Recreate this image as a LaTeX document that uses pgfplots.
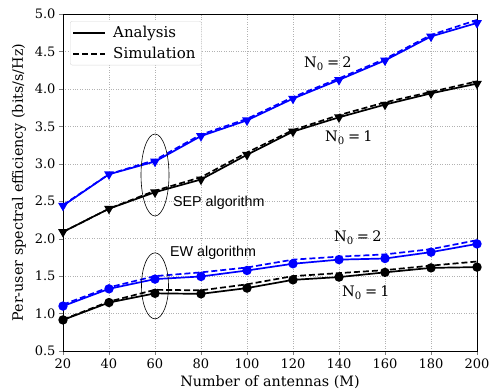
\documentclass[border=0pt]{standalone}
\usepackage{fontspec}
\setmainfont{DejaVu Serif}
\newfontfamily\sansf{Liberation Sans}
\usepackage{pgfplots}
\pgfplotsset{compat=1.18}
\usetikzlibrary{calc}
\newcommand{\Nz}[1]{N\textsubscript{0}\hspace{0.22em}=\hspace{0.22em}#1}
\begin{document}
\begin{tikzpicture}
\begin{axis}[
  scale only axis, width=414pt, height=337pt,
  xmin=20, xmax=200, ymin=0.5, ymax=5.0,
  xtick={20,40,...,200}, ytick={0.5,1.0,...,5.0},
  y tick label style={/pgf/number format/.cd, fixed, fixed zerofill, precision=1},
  /pgf/number format/assume math mode=true,
  tick label style={font=\fontsize{13}{15}\selectfont},
  label style={font=\fontsize{14.3}{16}\selectfont},
  xlabel={Number of antennas (M)},
  ylabel={Per-user spectral efficiency (bits/s/Hz)},
  xlabel style={at={(axis description cs:0.5,-0.092)}, anchor=center},
  ylabel style={at={(axis description cs:-0.106,0.5)}, anchor=center},
  grid=major, grid style={dotted, gray!60, line width=0.5pt},
  tick align=outside, tick pos=left,
  major tick length=4pt,
  legend style={at={(0.017,0.979)}, anchor=north west, draw=gray!30, rounded corners=2pt,
    font=\fontsize{15}{17}\selectfont, inner sep=2pt, row sep=2pt, column sep=3pt,
    nodes={inner xsep=4pt, inner ysep=3pt}},
  legend cell align=left,
  legend image code/.code={\draw[#1, line width=2pt] (0pt,0pt) -- (32pt,0pt);},
]
\addlegendimage{black}
\addlegendentry{Analysis}
\addlegendimage{black, dash pattern=on 6pt off 3pt}
\addlegendentry{Simulation}

% SEP N0=2
\addplot[blue, line width=1.7pt, dash pattern=on 6pt off 3pt, forget plot] coordinates {
(20,2.45)(40,2.86)(60,3.05)(80,3.39)(100,3.60)(120,3.89)(140,4.14)(160,4.40)(180,4.72)(200,4.92)};
\addplot[blue, line width=1.7pt, mark=triangle*, mark size=4pt, mark options={rotate=180}, forget plot] coordinates {
(20,2.44)(40,2.86)(60,3.03)(80,3.37)(100,3.58)(120,3.87)(140,4.12)(160,4.38)(180,4.70)(200,4.88)};
% SEP N0=1
\addplot[black, line width=1.7pt, dash pattern=on 6pt off 3pt, forget plot] coordinates {
(20,2.09)(40,2.40)(60,2.64)(80,2.82)(100,3.15)(120,3.45)(140,3.65)(160,3.82)(180,3.96)(200,4.10)};
\addplot[black, line width=1.7pt, mark=triangle*, mark size=4pt, mark options={rotate=180}, forget plot] coordinates {
(20,2.09)(40,2.40)(60,2.62)(80,2.79)(100,3.12)(120,3.43)(140,3.62)(160,3.79)(180,3.94)(200,4.07)};
% EW N0=2
\addplot[blue, line width=1.7pt, dash pattern=on 6pt off 3pt, forget plot] coordinates {
(20,1.12)(40,1.35)(60,1.50)(80,1.55)(100,1.615)(120,1.72)(140,1.76)(160,1.79)(180,1.86)(200,1.98)};
\addplot[blue, line width=1.7pt, mark=*, mark size=3.8pt, forget plot] coordinates {
(20,1.10)(40,1.33)(60,1.46)(80,1.495)(100,1.575)(120,1.665)(140,1.72)(160,1.735)(180,1.82)(200,1.93)};
% EW N0=1
\addplot[black, line width=1.7pt, dash pattern=on 6pt off 3pt, forget plot] coordinates {
(20,0.92)(40,1.16)(60,1.317)(80,1.31)(100,1.39)(120,1.50)(140,1.54)(160,1.58)(180,1.64)(200,1.695)};
\addplot[black, line width=1.7pt, mark=*, mark size=3.8pt, forget plot] coordinates {
(20,0.915)(40,1.147)(60,1.27)(80,1.263)(100,1.34)(120,1.45)(140,1.487)(160,1.55)(180,1.61)(200,1.62)};

\draw[black, line width=0.6pt] (axis cs:60,2.85) ellipse [x radius=14pt, y radius=41pt];
\draw[black, line width=0.6pt] (axis cs:60,1.37) ellipse [x radius=13.5pt, y radius=33pt];
\node[anchor=west, inner sep=0pt, font=\sansf\fontsize{14.3}{16}\selectfont] at (axis cs:67.8,2.48) {SEP algorithm};
\node[anchor=west, inner sep=0pt, font=\sansf\fontsize{14.3}{16}\selectfont] at (axis cs:66.5,1.81) {EW algorithm};
\node[anchor=west, inner sep=0pt, font=\fontsize{14.5}{16}\selectfont] at (axis cs:124.8,4.34) {\Nz{2}};
\node[anchor=west, inner sep=0pt, font=\fontsize{14.5}{16}\selectfont] at (axis cs:133.9,3.35) {\Nz{1}};
\node[anchor=west, inner sep=0pt, font=\fontsize{14.5}{16}\selectfont] at (axis cs:137.8,2.01) {\Nz{2}};
\node[anchor=west, inner sep=0pt, font=\fontsize{14.5}{16}\selectfont] at (axis cs:141.3,1.277) {\Nz{1}};
\end{axis}
\pgfresetboundingbox
\path ($(current axis.south west)+(-63pt,-41pt)$) rectangle ($(current axis.north east)+(17pt,14pt)$);
\end{tikzpicture}
\end{document}
